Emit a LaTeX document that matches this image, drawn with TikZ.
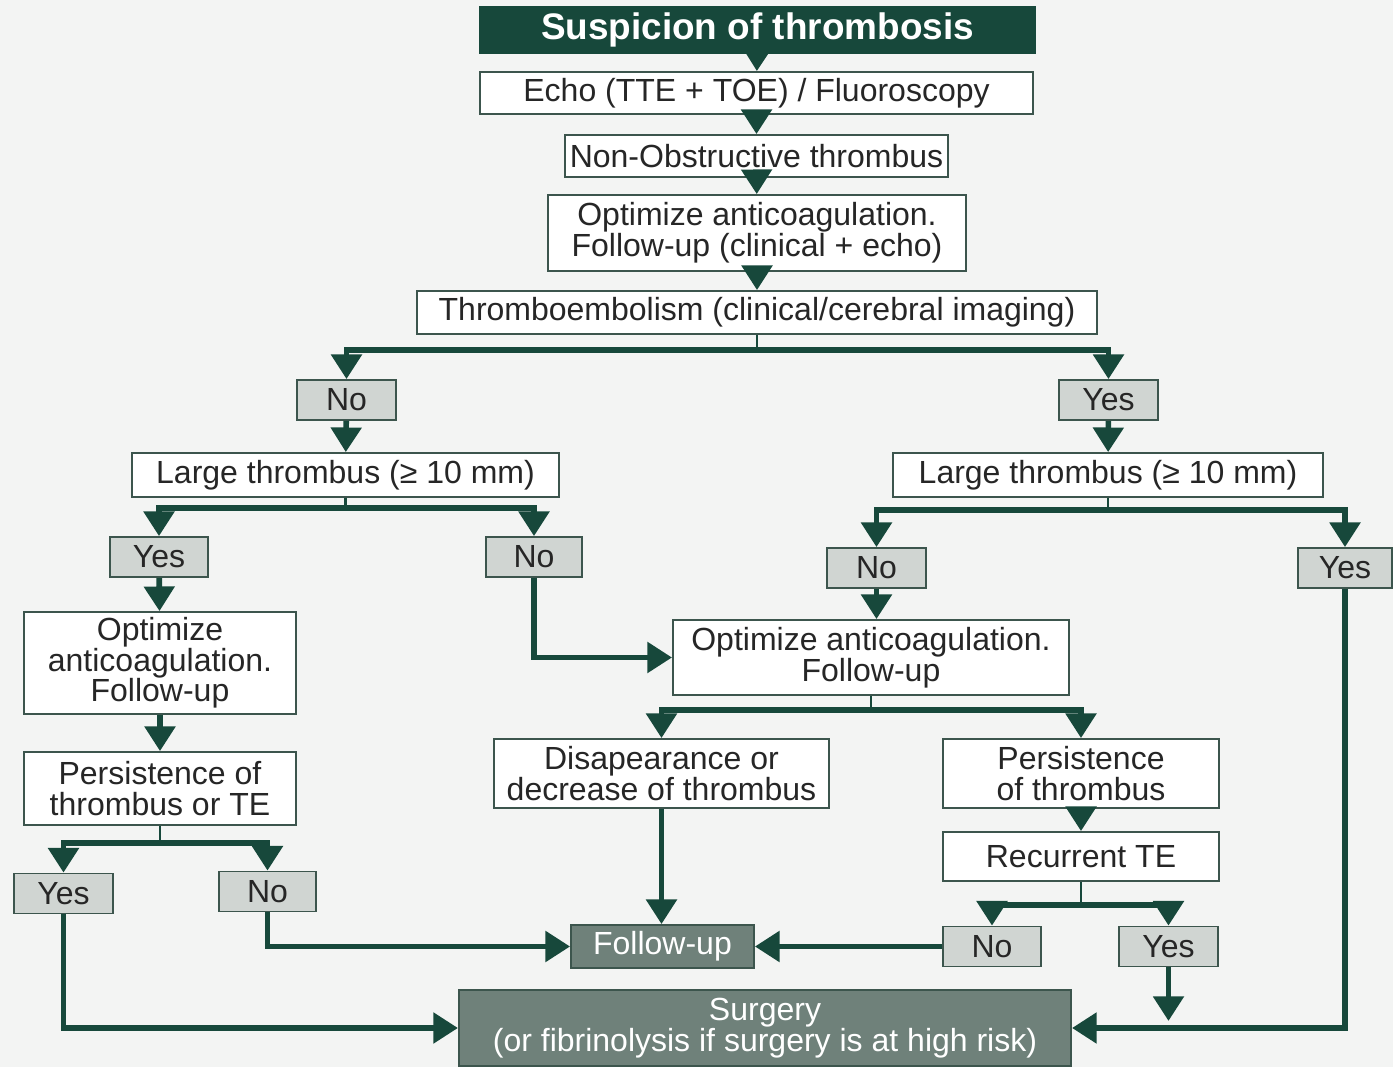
\documentclass[tikz,border=0pt]{standalone}
\usepackage{fontspec}
\setmainfont{Liberation Sans}
\usetikzlibrary{arrows.meta}
\definecolor{pinegreen}{HTML}{17483B}
\definecolor{answergrey}{HTML}{D0D5D2}
\definecolor{outcomegrey}{HTML}{6F817A}
\definecolor{boxedge}{HTML}{3C554D}
\definecolor{paper}{HTML}{F3F4F3}
\begin{document}
\begin{tikzpicture}[x=0.01cm,y=-0.01cm,
    box/.style={draw=boxedge,line width=0.5pt,fill=white,text=black!85,inner sep=0pt,
      align=center,font=\fontsize{9.1}{8.7}\selectfont},
    answer/.style={box,fill=answergrey,minimum width=0.99cm,minimum height=0.4cm},
    outcome/.style={box,fill=outcomegrey,text=white},
    head/.style={box,draw=pinegreen,fill=pinegreen,text=white,font=\bfseries\fontsize{10.5}{12}\selectfont},
    flow/.style={draw=pinegreen,line width=1.6pt,-{Triangle[width=8.5pt,length=7pt]}},
    stem/.style={draw=pinegreen,line width=0.6pt}]
  \fill[paper] (0,0) rectangle (1393,1067);
  \useasboundingbox (0,0) rectangle (1393,1067);

  \node[head,minimum width=5.55cm,minimum height=0.46cm] (susp) at (757.5,30) {Suspicion of thrombosis};
  \node[box,minimum width=5.53cm,minimum height=0.42cm] (echo) at (756.5,93) {Echo (TTE + TOE) / Fluoroscopy};
  \node[box,minimum width=3.83cm,minimum height=0.42cm] (nonobs) at (756.5,156) {Non-Obstructive thrombus};
  \node[box,minimum width=4.18cm,minimum height=0.76cm] (optA) at (757,233) {Optimize anticoagulation.\\Follow-up (clinical + echo)};
  \node[box,minimum width=6.8cm,minimum height=0.43cm] (teA) at (757,312.5) {Thromboembolism (clinical/cerebral imaging)};
  \node[answer] (noA) at (346.5,400) {No};
  \node[answer] (yesA) at (1108.5,400) {Yes};
  \node[box,minimum width=4.27cm,minimum height=0.44cm] (largeL) at (345.5,475) {Large thrombus (≥ 10 mm)};
  \node[box,minimum width=4.3cm,minimum height=0.44cm] (largeR) at (1108,475) {Large thrombus (≥ 10 mm)};
  \node[answer,minimum width=0.98cm] (yesL) at (159,557) {Yes};
  \node[answer,minimum width=0.96cm] (noL) at (534,557) {No};
  \node[answer] (noR) at (876.5,568) {No};
  \node[answer,minimum width=0.94cm] (yesR) at (1345,568) {Yes};
  \node[box,minimum width=2.72cm,minimum height=1.02cm] (optL) at (160,663) {Optimize\\anticoagulation.\\Follow-up};
  \node[box,minimum width=3.96cm,minimum height=0.75cm] (optR) at (871,657.5) {Optimize anticoagulation.\\Follow-up};
  \node[box,minimum width=2.72cm,minimum height=0.73cm] (persL) at (160,788.5) {Persistence of\\thrombus or TE};
  \node[box,minimum width=3.35cm,minimum height=0.69cm] (decr) at (661.5,773.5) {Disapearance or\\decrease of thrombus};
  \node[box,minimum width=2.76cm,minimum height=0.69cm] (persR) at (1081,773.5) {Persistence\\of thrombus};
  \node[box,minimum width=2.76cm,minimum height=0.49cm] (recur) at (1081,856.5) {Recurrent TE};
  \node[answer] (yesLL) at (63.5,893.5) {Yes};
  \node[answer,minimum width=0.97cm] (noLL) at (267.5,891.5) {No};
  \node[answer,minimum width=0.98cm] (noRR) at (992,946.5) {No};
  \node[answer] (yesRR) at (1168.5,946.5) {Yes};
  \node[outcome,minimum width=1.83cm,minimum height=0.43cm] (follow) at (662.5,946.5) {Follow-up};
  \node[outcome,minimum width=6.12cm,minimum height=0.76cm] (surgery) at (765,1028) {Surgery\\(or fibrinolysis if surgery is at high risk)};

  \draw[flow] (susp) -- (echo);
  \draw[flow] (echo) -- (nonobs);
  \draw[flow] (nonobs) -- (optA);
  \draw[flow] (optA) -- (teA);
  \coordinate (forkA) at (757,350);
  \draw[stem] (teA) -- (forkA);
  \draw[flow] (forkA) -| (noA.north);
  \draw[flow] (forkA) -| (yesA.north);
  \draw[flow] (noA) -- (largeL);
  \draw[flow] (yesA) -- (largeR);

  \coordinate (forkL) at (345.5,508);
  \draw[stem] (largeL) -- (forkL);
  \draw[flow] (forkL) -| (yesL.north);
  \draw[flow] (forkL) -| (noL.north);
  \coordinate (forkR) at (1108,510);
  \draw[stem] (largeR) -- (forkR);
  \draw[flow] (forkR) -| (noR.north);
  \draw[flow] (forkR) -| (yesR.north);

  \draw[flow] (yesL) -- (optL);
  \draw[flow] (noL.south) |- (optR.west);
  \draw[flow] (noR.south) -- (noR.south |- optR.north);
  \draw[flow] (optL) -- (persL);

  \coordinate (forkM) at (871,710);
  \draw[stem] (optR) -- (forkM);
  \draw[flow] (forkM) -| (decr.north);
  \draw[flow] (forkM) -| (persR.north);
  \draw[flow] (persR) -- (recur);

  \coordinate (forkP) at (160,843);
  \draw[stem] (persL) -- (forkP);
  \draw[flow] (forkP) -| (yesLL.north);
  \draw[flow] (forkP) -| (noLL.north);
  \coordinate (forkT) at (1081,905);
  \draw[stem] (recur) -- (forkT);
  \draw[flow] (forkT) -| (noRR.north);
  \draw[flow] (forkT) -| (yesRR.north);

  \draw[flow] (yesLL.south) |- (surgery.west);
  \draw[flow] (noLL.south) |- (follow.west);
  \draw[flow] (decr.south) -- (decr.south |- follow.north);
  \draw[flow] (noRR.west) -- (noRR.west -| follow.east);
  \draw[flow] (yesR.south) |- (surgery.east);
  \draw[flow,shorten >=2pt] (yesRR.south) -- (yesRR.south |- surgery.east);
\end{tikzpicture}
\end{document}
